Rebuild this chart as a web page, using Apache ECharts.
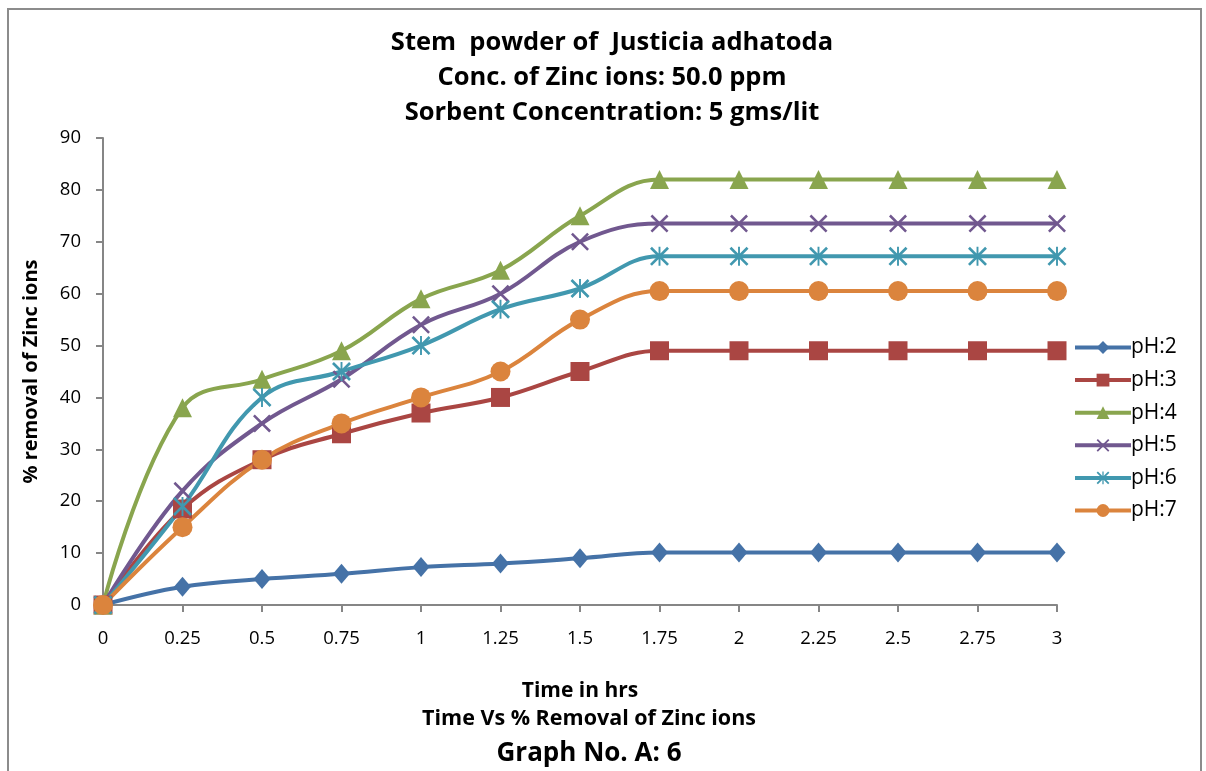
<!DOCTYPE html>
<html lang="en">
<head>
    <meta charset="UTF-8">
    <title>Graph No. A: 6</title>
    <script src="https://cdn.jsdelivr.net/npm/echarts@6/dist/echarts.min.js"></script>
    <style>
        body { margin: 0; background: #fff; }
    </style>
</head>
<body>
    <div id="main" style="width:1206px;height:771px;"></div>

    <script>
    // time in hrs
    var hours = ['0', '0.25', '0.5', '0.75', '1', '1.25', '1.5', '1.75', '2', '2.25', '2.5', '2.75', '3'];
    // % removal
    var ph2 = [0, 3.5, 5, 6, 7.3, 8, 9, 10.1, 10.1, 10.1, 10.1, 10.1, 10.1];
    var ph3 = [0, 18.5, 28, 33, 37, 40, 45, 49, 49, 49, 49, 49, 49];
    var ph4 = [0, 38, 43.5, 49, 59, 64.5, 75, 82, 82, 82, 82, 82, 82];
    var ph5 = [0, 22, 35, 43.5, 54, 60, 70, 73.5, 73.5, 73.5, 73.5, 73.5, 73.5];
    var ph6 = [0, 19, 40, 45, 50, 57, 61, 67.2, 67.2, 67.2, 67.2, 67.2, 67.2];
    var ph7 = [0, 15, 28, 35, 40, 45, 55, 60.5, 60.5, 60.5, 60.5, 60.5, 60.5];
    var yTicks = [0, 10, 20, 30, 40, 50, 60, 70, 80, 90];

    var font = 'Open Sans';
    // x mark and asterisk drawn as thin bars
    var crossPath = 'path://M0,1 L1,0 L10,9 L9,10 Z M9,0 L10,1 L1,10 L0,9 Z';
    var starPath = 'path://M0,1 L1,0 L10,9 L9,10 Z M9,0 L10,1 L1,10 L0,9 Z M4.5,0 L5.5,0 L5.5,10 L4.5,10 Z';

    function mkSeries(name, data, color, symbol, size) {
        return {
            name: name,
            type: 'line',
            data: data,
            smooth: 0.4,
            symbol: symbol,
            symbolSize: size,
            showAllSymbol: true,
            lineStyle: { color: color, width: 4 },
            itemStyle: { color: color },
            emphasis: { disabled: true }
        };
    }

    var myChart = echarts.init(document.getElementById('main'));
    myChart.setOption({
        animation: false,
        textStyle: { fontFamily: font },
        title: [{
            text: 'Stem  powder of  Justicia adhatoda\nConc. of Zinc ions: 50.0 ppm\nSorbent Concentration: 5 gms/lit',
            left: 607, top: 20, textAlign: 'center',
            textStyle: { fontSize: 25.5, fontWeight: 'bold', color: '#000', lineHeight: 35, fontFamily: font }
        }, {
            text: 'Time Vs % Removal of Zinc ions',
            left: 584, top: 703, textAlign: 'center',
            textStyle: { fontSize: 21.5, fontWeight: 'bold', color: '#000', fontFamily: font }
        }, {
            text: 'Graph No. A: 6',
            left: 584, top: 736, textAlign: 'center',
            textStyle: { fontSize: 26, fontWeight: 'bold', color: '#000', fontFamily: font }
        }],
        graphic: [{
            type: 'rect',
            shape: { x: 8, y: 9, width: 1193, height: 800 },
            style: { fill: 'none', stroke: '#8c8c8c', lineWidth: 2 },
            silent: true
        }],
        legend: {
            orient: 'vertical',
            left: 1068, top: 332,
            itemWidth: 56, itemHeight: 16, itemGap: 11.6,
            lineStyle: { width: 4 },
            textStyle: { fontSize: 21, color: '#000', padding: [0, 0, 0, -5], fontFamily: font, lineHeight: 16 },
            data: ['pH:2', 'pH:3', 'pH:4', 'pH:5', 'pH:6', 'pH:7']
        },
        grid: { left: 103, right: 149, top: 138, bottom: 166 },
        xAxis: {
            type: 'category',
            data: hours,
            boundaryGap: false,
            name: 'Time in hrs',
            nameLocation: 'middle',
            nameGap: 76,
            nameTextStyle: { fontSize: 21, fontWeight: 'bold', color: '#000' },
            axisLine: { lineStyle: { color: '#868686', width: 2 } },
            axisTick: { show: true, length: 7, lineStyle: { color: '#868686', width: 2 } },
            axisLabel: { fontSize: 18.5, color: '#000', margin: 24 },
            splitLine: { show: false }
        },
        yAxis: {
            type: 'value',
            min: yTicks[0], max: yTicks[yTicks.length - 1], interval: 10,
            name: '% removal of Zinc ions',
            nameLocation: 'middle',
            nameGap: 62,
            nameRotate: 90,
            nameTextStyle: { fontSize: 20, fontWeight: 'bold', color: '#000' },
            axisLine: { show: true, lineStyle: { color: '#868686', width: 2 } },
            axisTick: { show: true, length: 7, lineStyle: { color: '#868686', width: 2 } },
            axisLabel: { fontSize: 18.5, color: '#000', margin: 22 },
            splitLine: { show: false }
        },
        series: [
            mkSeries('pH:2', ph2, '#4572A7', 'diamond', [17, 20]),
            mkSeries('pH:3', ph3, '#AA4643', 'rect', 19),
            mkSeries('pH:4', ph4, '#89A54E', 'triangle', 19),
            mkSeries('pH:5', ph5, '#71588F', crossPath, 18),
            mkSeries('pH:6', ph6, '#4198AF', starPath, 19),
            mkSeries('pH:7', ph7, '#DB843D', 'circle', 20)
        ]
    });
    </script>
</body>
</html>
